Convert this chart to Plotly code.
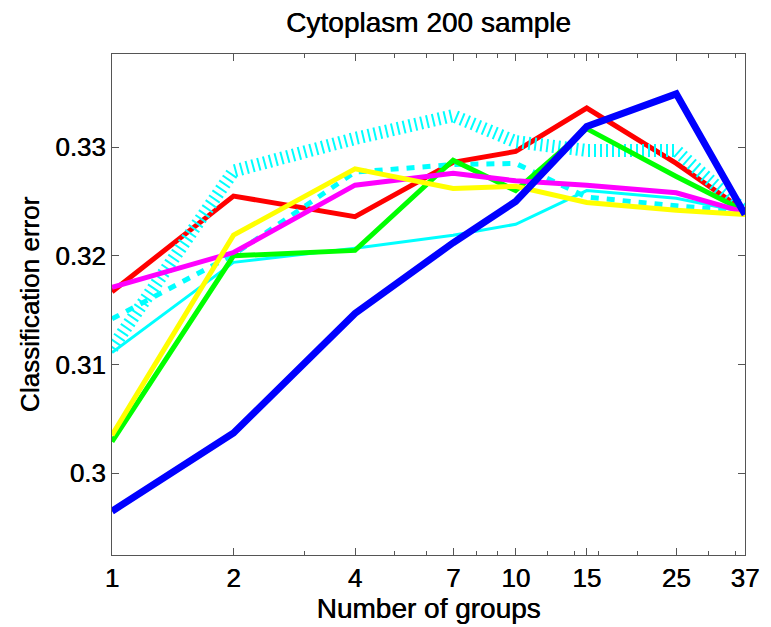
import math
import plotly.graph_objects as go

# Number of groups (log-scaled x axis)
groups = [1, 2, 4, 7, 10, 15, 25, 37]

# Classification error for each configuration
err_red = [0.3167, 0.3255, 0.3236, 0.3286, 0.3296, 0.3336, 0.3285, 0.3241]
err_cyan_hatch = [0.3115, 0.3278, 0.3308, 0.3329, 0.3305, 0.3297, 0.3297, 0.3241]
err_cyan_solid = [0.3111, 0.3194, 0.3207, 0.3219, 0.3229, 0.3260, 0.3253, 0.3240]
err_cyan_dash = [0.3142, 0.3201, 0.3277, 0.3284, 0.3285, 0.3254, 0.3246, 0.3241]
err_green = [0.3029, 0.3200, 0.3205, 0.3288, 0.3260, 0.3317, 0.3273, 0.3241]
err_magenta = [0.3171, 0.3203, 0.3265, 0.3276, 0.3269, 0.3265, 0.3258, 0.3240]
err_yellow = [0.3035, 0.3219, 0.3280, 0.3262, 0.3264, 0.3249, 0.3242, 0.3238]
err_blue = [0.2965, 0.3037, 0.3147, 0.3212, 0.3250, 0.3319, 0.3349, 0.3238]

x_ticks = [1, 2, 4, 7, 10, 15, 25, 37]
x_minor = [3, 5, 6, 8, 9, 12, 14, 16, 20, 30, 35]
y_ticks = [0.30, 0.31, 0.32, 0.33]
y_ticktext = ["0.3", "0.31", "0.32", "0.33"]

FONT = "Liberation Sans, Arial, Helvetica, sans-serif"
INK = "#000000"
SHADOW = "0.5px 0px 0px #000000"


def font(size):
    return dict(family=FONT, size=size, color=INK, shadow=SHADOW)


series = [
    (err_red, "#ff0000", 5, "solid"),
    (err_cyan_hatch, "#00ffff", 13, "2px,4px"),
    (err_cyan_solid, "#00ffff", 3, "solid"),
    (err_cyan_dash, "#00ffff", 5, "8px,8px"),
    (err_green, "#00ff00", 5, "solid"),
    (err_magenta, "#ff00ff", 5, "solid"),
    (err_yellow, "#ffff00", 5, "solid"),
    (err_blue, "#0000ff", 7, "solid"),
]

fig = go.Figure()
for vals, color, width, dash in series:
    fig.add_trace(go.Scatter(
        x=groups, y=vals, mode="lines",
        line=dict(color=color, width=width, dash=dash),
        showlegend=False, hoverinfo="skip",
    ))

axis_common = dict(
    showline=True, linecolor="#555555", linewidth=1,
    mirror="ticks", ticks="inside", ticklen=7, tickcolor="#555555",
    showgrid=False, zeroline=False,
    tickfont=font(26),
)

fig.update_layout(
    width=771, height=627,
    margin=dict(l=112, r=18, t=54, b=65),
    paper_bgcolor="white", plot_bgcolor="white",
    font=dict(family=FONT, color=INK),
    title=dict(
        text="Cytoplasm 200 sample",
        x=0.5, xref="paper", xanchor="center",
        y=1 - 22 / 627, yref="container", yanchor="middle",
        font=font(28),
    ),
    xaxis=dict(
        type="log", range=[0, math.log10(37)],
        tickmode="array", tickvals=x_ticks, ticktext=[str(v) for v in x_ticks],
        minor=dict(tickmode="array", tickvals=x_minor, ticks="inside",
                   ticklen=4, tickcolor="#555555"),
        title=dict(text="Number of groups", standoff=2, font=font(28)),
        **axis_common,
    ),
    yaxis=dict(
        range=[0.29247, 0.33857],
        tickmode="array", tickvals=y_ticks, ticktext=y_ticktext,
        title=dict(text="Classification error", standoff=8, font=font(26)),
        **axis_common,
    ),
)

fig.write_html("out.html")
